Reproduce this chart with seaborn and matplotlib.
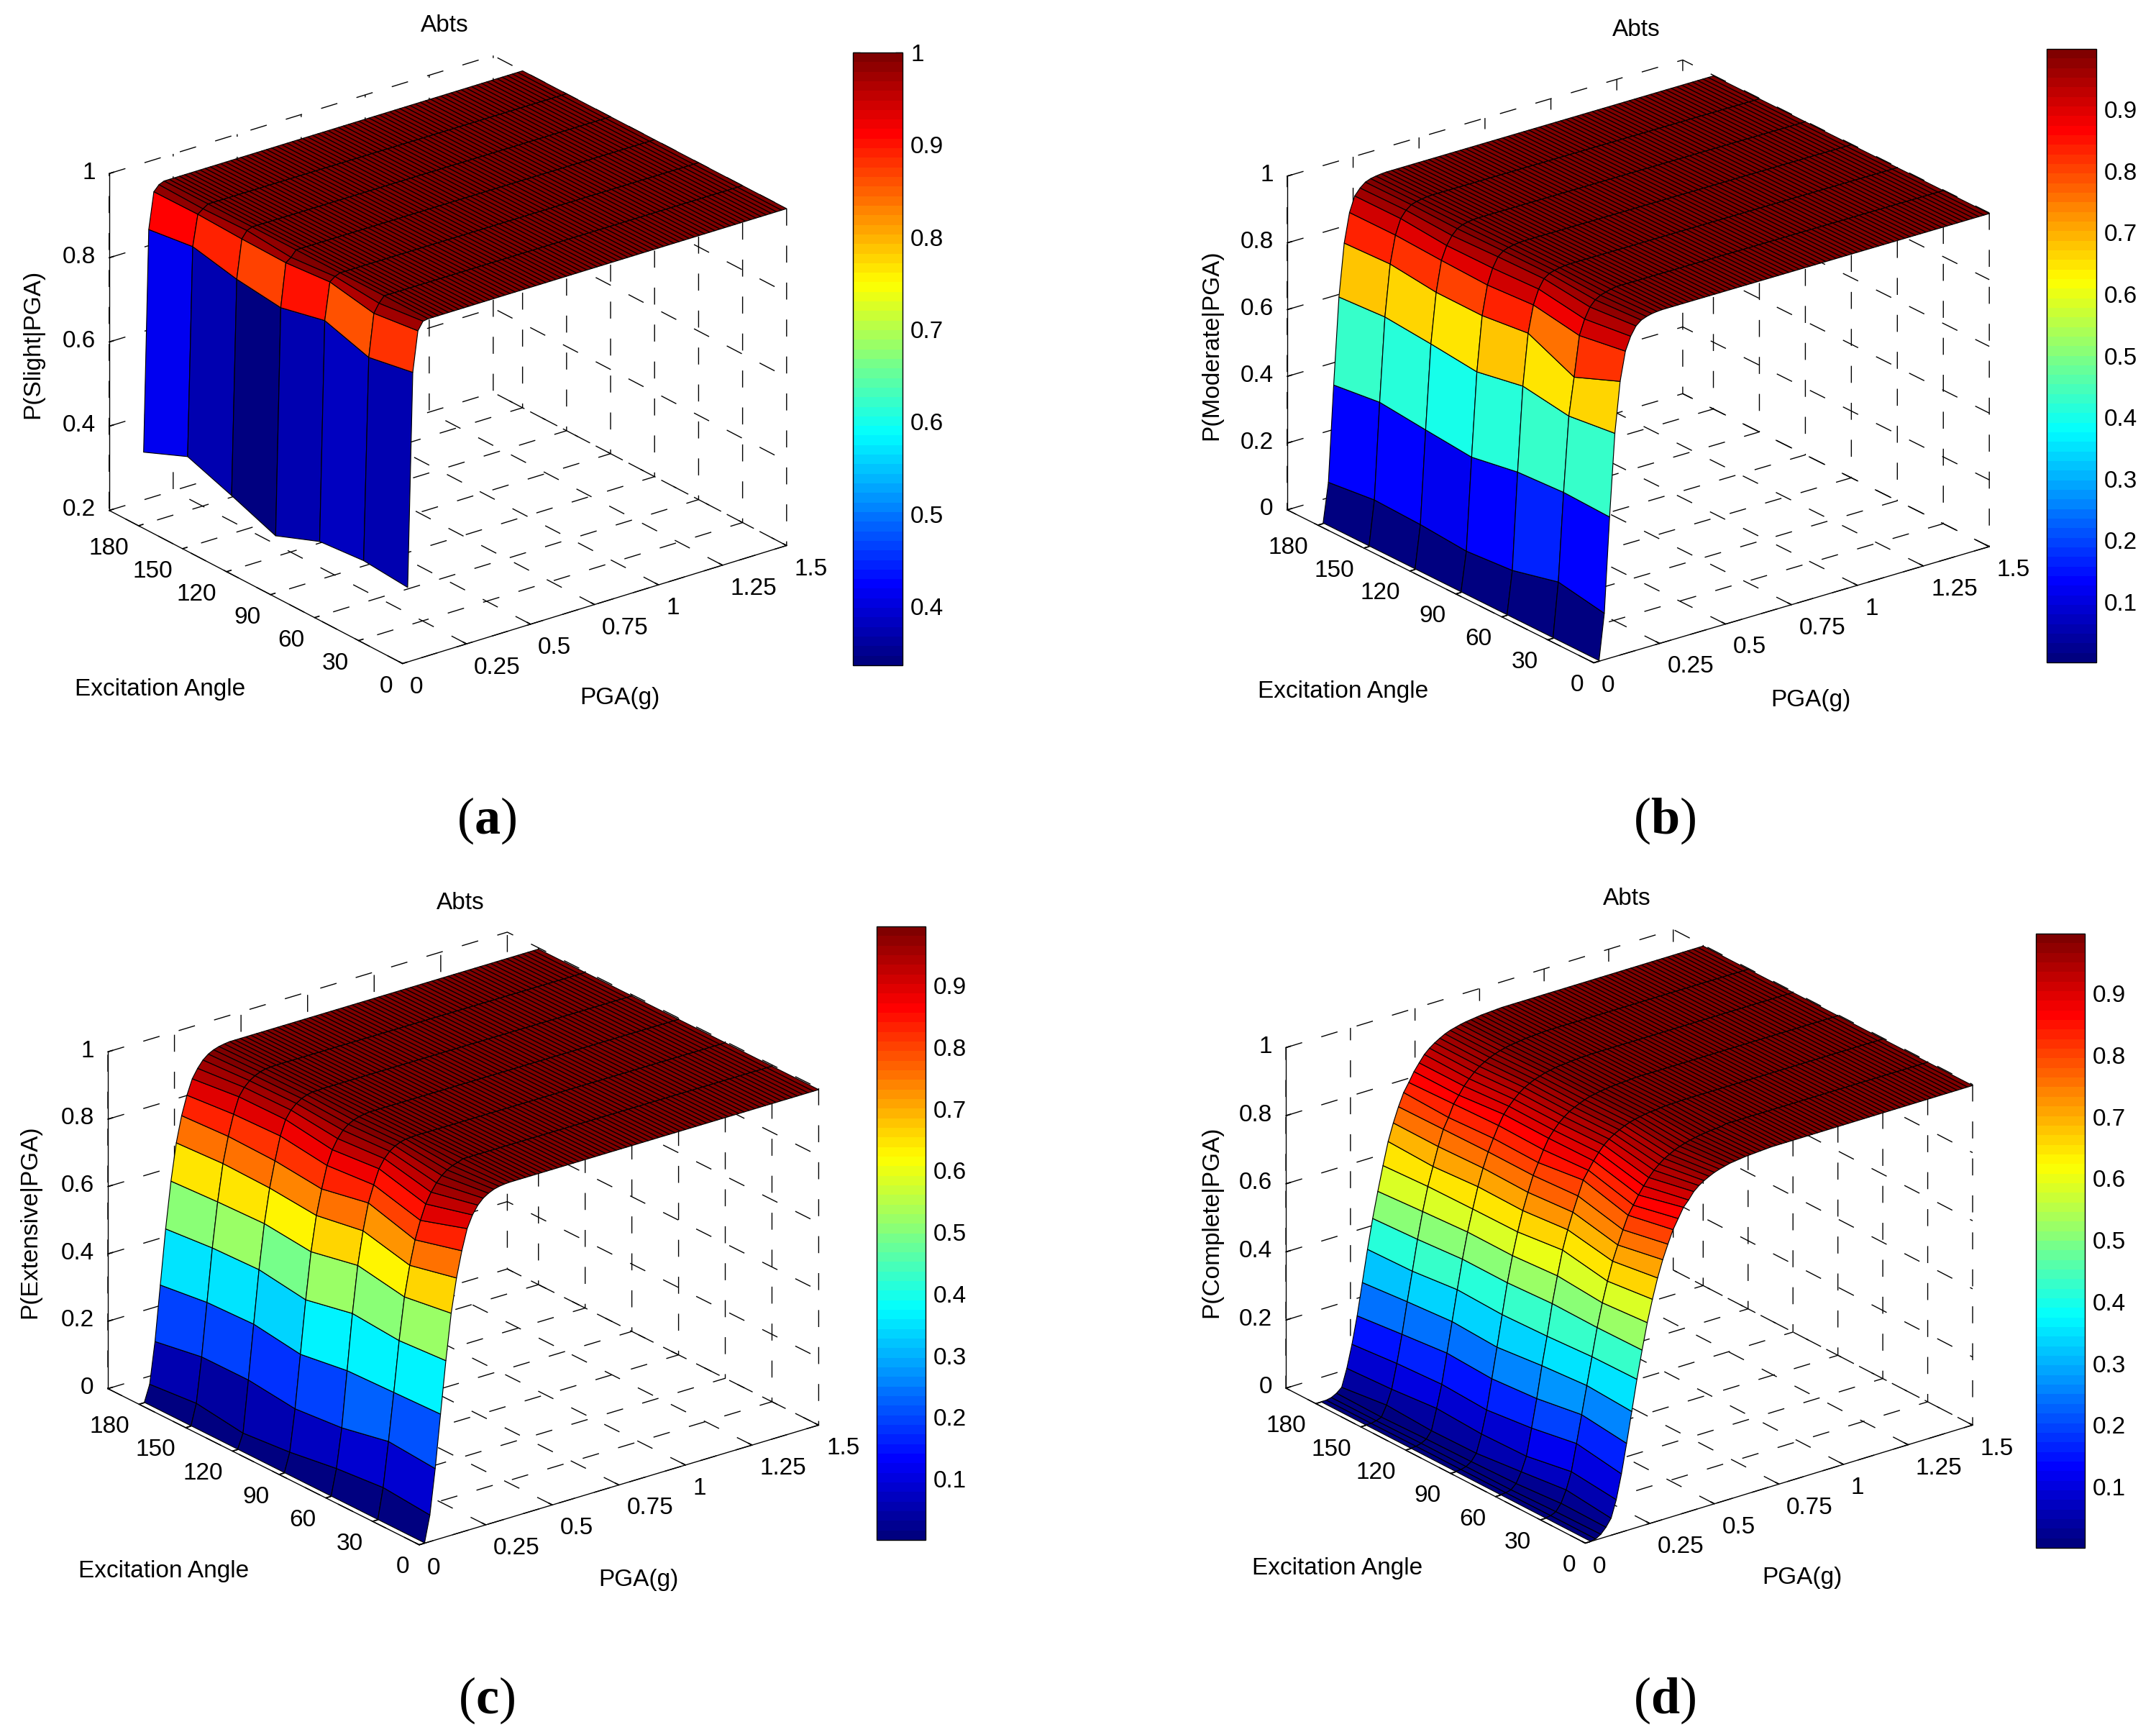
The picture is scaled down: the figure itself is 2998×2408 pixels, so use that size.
import matplotlib
matplotlib.use("Agg")
import matplotlib.pyplot as plt
from matplotlib.cm import ScalarMappable
from matplotlib.colors import ListedColormap, Normalize
from mpl_toolkits.mplot3d import proj3d
import numpy as np
import seaborn as sns

W, H = 2998, 2408

# PGA axis of the mesh (g)
PGA_G = [0.02, 0.04, 0.06, 0.08, 0.10, 0.12, 0.14, 0.16, 0.18, 0.20, 0.22, 0.24, 0.26, 0.28, 0.30,
         0.32, 0.34, 0.36, 0.38, 0.40, 0.42, 0.44, 0.46, 0.48, 0.50, 0.52, 0.54, 0.56, 0.58, 0.60,
         0.62, 0.64, 0.66, 0.68, 0.70, 0.72, 0.74, 0.76, 0.78, 0.80, 0.82, 0.84, 0.86, 0.88, 0.90,
         0.92, 0.94, 0.96, 0.98, 1.00, 1.02, 1.04, 1.06, 1.08, 1.10, 1.12, 1.14, 1.16, 1.18, 1.20,
         1.22, 1.24, 1.26, 1.28, 1.30, 1.32, 1.34, 1.36, 1.38, 1.40, 1.42, 1.44, 1.46, 1.48, 1.50]
ANGLE_DEG = [0, 30, 60, 90, 120, 150, 180]

PGA_TICKS = [0, 0.25, 0.5, 0.75, 1, 1.25, 1.5]
PGA_TICK_LABELS = ["0", "0.25", "0.5", "0.75", "1", "1.25", "1.5"]
Z_TICK_LABELS = {0: "0", 0.2: "0.2", 0.4: "0.4", 0.6: "0.6", 0.8: "0.8", 1: "1"}

# one row per PGA value, one column per angle. flat top repeated for the saturated rows
P_SLIGHT = [
    [0.377, 0.386, 0.377, 0.336, 0.377, 0.415, 0.371],
    [0.884, 0.865, 0.898, 0.874, 0.887, 0.910, 0.896],
    [0.979, 0.966, 0.986, 0.977, 0.979, 0.983, 0.982],
    [0.998, 0.986, 0.995, 0.986, 0.995, 0.992, 0.995],
] + [[1.0] * 7] * 71

P_MODERATE = [
    [0.002, 0.002, 0.002, 0.002, 0.002, 0.002, 0.002],
    [0.139, 0.164, 0.130, 0.119, 0.130, 0.135, 0.119],
    [0.423, 0.428, 0.420, 0.396, 0.409, 0.423, 0.406],
    [0.669, 0.652, 0.673, 0.647, 0.662, 0.674, 0.665],
    [0.820, 0.764, 0.827, 0.811, 0.812, 0.828, 0.822],
    [0.906, 0.884, 0.907, 0.898, 0.903, 0.910, 0.909],
    [0.946, 0.929, 0.950, 0.944, 0.943, 0.955, 0.954],
    [0.972, 0.960, 0.976, 0.973, 0.968, 0.975, 0.973],
    [0.985, 0.977, 0.987, 0.986, 0.984, 0.987, 0.986],
    [0.991, 0.986, 0.992, 0.992, 0.991, 0.992, 0.992],
    [0.995, 0.991, 0.995, 0.995, 0.995, 0.995, 0.995],
    [0.997, 0.995, 0.997, 0.997, 0.997, 0.997, 0.997],
] + [[0.998] * 7] * 63

P_EXTENSIVE = [
    [0.001, 0.001, 0.001, 0.001, 0.001, 0.001, 0.001],
    [0.079, 0.091, 0.078, 0.057, 0.044, 0.063, 0.050],
    [0.212, 0.223, 0.194, 0.181, 0.197, 0.196, 0.172],
    [0.369, 0.364, 0.359, 0.338, 0.358, 0.353, 0.335],
    [0.523, 0.513, 0.524, 0.495, 0.515, 0.510, 0.497],
    [0.659, 0.638, 0.662, 0.633, 0.647, 0.642, 0.634],
    [0.759, 0.727, 0.760, 0.736, 0.748, 0.751, 0.743],
    [0.835, 0.798, 0.838, 0.810, 0.824, 0.827, 0.819],
    [0.896, 0.851, 0.887, 0.875, 0.893, 0.888, 0.875],
    [0.932, 0.895, 0.930, 0.917, 0.937, 0.935, 0.919],
    [0.956, 0.925, 0.955, 0.945, 0.960, 0.958, 0.945],
    [0.972, 0.948, 0.972, 0.965, 0.975, 0.973, 0.965],
    [0.982, 0.965, 0.983, 0.978, 0.985, 0.983, 0.978],
    [0.989, 0.977, 0.990, 0.986, 0.991, 0.990, 0.986],
    [0.993, 0.985, 0.994, 0.991, 0.995, 0.994, 0.991],
    [0.995, 0.990, 0.995, 0.994, 0.995, 0.995, 0.994],
] + [[0.996] * 7] * 59

P_COMPLETE = [
    [0.001, 0.001, 0.001, 0.001, 0.001, 0.001, 0.001],
    [0.003, 0.003, 0.002, 0.002, 0.002, 0.001, 0.001],
    [0.012, 0.010, 0.006, 0.006, 0.006, 0.004, 0.004],
    [0.028, 0.030, 0.020, 0.016, 0.014, 0.010, 0.012],
    [0.050, 0.065, 0.050, 0.036, 0.034, 0.041, 0.025],
    [0.100, 0.114, 0.091, 0.088, 0.095, 0.083, 0.076],
    [0.171, 0.192, 0.169, 0.154, 0.161, 0.154, 0.142],
    [0.256, 0.272, 0.251, 0.241, 0.248, 0.235, 0.221],
    [0.345, 0.353, 0.343, 0.329, 0.336, 0.326, 0.314],
    [0.435, 0.433, 0.425, 0.420, 0.425, 0.411, 0.407],
    [0.516, 0.514, 0.516, 0.509, 0.510, 0.500, 0.493],
    [0.592, 0.582, 0.593, 0.584, 0.585, 0.577, 0.568],
    [0.656, 0.641, 0.664, 0.649, 0.648, 0.646, 0.639],
    [0.714, 0.695, 0.719, 0.707, 0.709, 0.700, 0.705],
    [0.763, 0.738, 0.766, 0.756, 0.759, 0.754, 0.755],
    [0.804, 0.778, 0.809, 0.801, 0.802, 0.800, 0.798],
    [0.842, 0.816, 0.851, 0.834, 0.837, 0.830, 0.835],
    [0.870, 0.841, 0.875, 0.867, 0.870, 0.865, 0.860],
    [0.898, 0.866, 0.898, 0.896, 0.898, 0.886, 0.887],
    [0.915, 0.888, 0.918, 0.915, 0.917, 0.908, 0.908],
    [0.935, 0.908, 0.935, 0.932, 0.933, 0.925, 0.928],
    [0.948, 0.925, 0.948, 0.945, 0.947, 0.940, 0.942],
    [0.958, 0.938, 0.958, 0.956, 0.958, 0.952, 0.953],
    [0.966, 0.950, 0.966, 0.964, 0.966, 0.961, 0.962],
    [0.973, 0.958, 0.973, 0.971, 0.973, 0.969, 0.970],
    [0.978, 0.966, 0.979, 0.977, 0.978, 0.975, 0.976],
    [0.982, 0.972, 0.983, 0.982, 0.983, 0.980, 0.980],
    [0.986, 0.977, 0.986, 0.985, 0.986, 0.984, 0.984],
    [0.988, 0.981, 0.989, 0.988, 0.989, 0.987, 0.987],
    [0.990, 0.984, 0.991, 0.990, 0.991, 0.989, 0.989],
    [0.992, 0.987, 0.992, 0.992, 0.992, 0.991, 0.991],
    [0.993, 0.989, 0.994, 0.993, 0.994, 0.993, 0.993],
    [0.994, 0.991, 0.995, 0.994, 0.995, 0.994, 0.994],
    [0.995, 0.992, 0.996, 0.995, 0.996, 0.995, 0.995],
    [0.996, 0.993, 0.996, 0.996, 0.996, 0.996, 0.996],
] + [[0.997] * 7] * 40

# layout, in pixels of the full picture
PANELS = [
    dict(values=P_SLIGHT, name="Slight", letter="a", zlim=(0.2, 1), zticks=[0.2, 0.4, 0.6, 0.8, 1],
         cbar_ticks=[0.4, 0.5, 0.6, 0.7, 0.8, 0.9, 1], cbar_labels=["0.4", "0.5", "0.6", "0.7", "0.8", "0.9", "1"],
         view=(23.6, 232.5), box=(673, 670, 511), left=(151.8, 709.6), right=(1093.8, 758.5),
         cbar=(1186, 73, 1255, 925), title=(618, 36), tag=(677, 1141),
         angle_label=(223, 958), pga_label=(862, 971), p_label=(46, 478)),
    dict(values=P_MODERATE, name="Moderate", letter="b", zlim=(0, 1), zticks=[0, 0.2, 0.4, 0.6, 0.8, 1],
         cbar_ticks=[0.1, 0.2, 0.3, 0.4, 0.5, 0.6, 0.7, 0.8, 0.9], cbar_labels=None,
         view=(22.5, 232.5), box=(693, 700, 502), left=(1789.9, 708.8), right=(2766.2, 760),
         cbar=(2845.5, 68, 2915, 921), title=(2275, 41), tag=(2315, 1141),
         angle_label=(1867.5, 961), pga_label=(2518, 973), p_label=(1685, 480)),
    dict(values=P_EXTENSIVE, name="Extensive", letter="c", zlim=(0, 1), zticks=[0, 0.2, 0.4, 0.6, 0.8, 1],
         cbar_ticks=[0.1, 0.2, 0.3, 0.4, 0.5, 0.6, 0.7, 0.8, 0.9], cbar_labels=None,
         view=(22.8, 232.3), box=(702, 708, 508), left=(150, 1930.6), right=(1138.4, 1981.4),
         cbar=(1219, 1288, 1287, 2141), title=(640, 1256), tag=(677, 2364),
         angle_label=(228, 2184), pga_label=(888, 2196), p_label=(42, 1699)),
    dict(values=P_COMPLETE, name="Complete", letter="d", zlim=(0, 1), zticks=[0, 0.2, 0.4, 0.6, 0.8, 1],
         cbar_ticks=[0.1, 0.2, 0.3, 0.4, 0.5, 0.6, 0.7, 0.8, 0.9], cbar_labels=None,
         view=(23.4, 232.5), box=(679, 684, 516), left=(1788.1, 1929.8), right=(2743, 1981.4),
         cbar=(2831, 1298, 2899, 2152), title=(2262, 1250), tag=(2315, 2364),
         angle_label=(1860, 2181), pga_label=(2506, 2193.5), p_label=(1685, 1699)),
]

sns.set_theme(style="white", font="Liberation Sans", rc={
    "text.color": "black", "axes.labelcolor": "black", "axes.edgecolor": "black",
    "xtick.color": "black", "ytick.color": "black", "grid.color": "black",
    "grid.linewidth": 1.0, "grid.linestyle": (0, (17, 20)), "axes.linewidth": 1.0,
    "mathtext.fontset": "custom", "mathtext.rm": "Liberation Serif",
    "mathtext.bf": "Liberation Serif:bold",
})

# matlab jet, 64 steps
jet = ListedColormap(sns.blend_palette(
    [(0, 0, 0.5), (0, 0, 1), (0, 0.5, 1), (0, 1, 1), (0.5, 1, 0.5), (1, 1, 0), (1, 0.5, 0), (1, 0, 0), (0.5, 0, 0)],
    n_colors=64))

FS = 24
fig = plt.figure(figsize=(W / 100, H / 100), dpi=100, facecolor="white")


def project(ax, x, y, z):
    px, py, _ = proj3d.proj_transform(x, y, z, ax.get_proj())
    return ax.transData.transform((px, py))


def fit_box(ax, panel, zmin):
    # square axes, scaled and moved until the floor corners land on the target pixels
    (lx, ly), (rx, ry) = panel["left"], panel["right"]
    size, cx, cy = 1200.0, (lx + rx) / 2, H - (ly + ry) / 2
    for _ in range(3):
        ax.set_position([(cx - size / 2) / W, (cy - size / 2) / H, size / W, size / H])
        ax.apply_aspect()
        pl = project(ax, 0, 200, zmin)
        pr = project(ax, 1.5, 0, zmin)
        size *= (rx - lx) / (pr[0] - pl[0])
        cx += (lx + rx) / 2 - (pl[0] + pr[0]) / 2
        cy += (H - (ly + ry) / 2) - (pl[1] + pr[1]) / 2
    ax.set_position([(cx - size / 2) / W, (cy - size / 2) / H, size / W, size / H])
    ax.apply_aspect()


def label_at(xy, text, **kw):
    fig.text(xy[0] / W, 1 - xy[1] / H, text, ha="center", va="center", **kw)


X, Y = np.meshgrid(PGA_G, ANGLE_DEG, indexing="ij")
for panel in PANELS:
    Z = np.array(panel["values"])
    norm = Normalize(Z.min(), Z.max())

    ax = fig.add_axes([0.1, 0.1, 0.4, 0.4], projection="3d", proj_type="ortho")
    ax.set_facecolor("none")
    ax.plot_surface(X, Y, Z, facecolors=jet(norm(Z)), rstride=1, cstride=1,
                    edgecolor="black", linewidth=0.85, shade=False, antialiased=True)
    ax.view_init(elev=panel["view"][0], azim=panel["view"][1])
    ax.set_box_aspect(panel["box"])
    ax.set_xlim(0, 1.5, view_margin=0)
    ax.set_ylim(0, 200, view_margin=0)
    ax.set_zlim(*panel["zlim"], view_margin=0)

    ax.set_xticks(PGA_TICKS, PGA_TICK_LABELS, ha="left")
    ax.set_yticks(ANGLE_DEG, [str(a) for a in ANGLE_DEG], ha="right")
    ax.set_zticks(panel["zticks"], [Z_TICK_LABELS[t] for t in panel["zticks"]], ha="right", va="center")
    ax.tick_params(axis="x", labelsize=FS, pad=2)
    ax.tick_params(axis="y", labelsize=FS, pad=2)
    ax.tick_params(axis="z", labelsize=FS, pad=0)
    for axis in (ax.xaxis, ax.yaxis, ax.zaxis):
        axis.set_pane_color((1, 1, 1, 0))
        axis.pane.set_edgecolor("none")
        axis._axinfo["tick"]["inward_factor"] = 0.0
        axis._axinfo["tick"]["outward_factor"] = 0.15

    fit_box(ax, panel, panel["zlim"][0])

    # axis titles sit where the picture has them, mplot3d would keep them on the edge normal
    label_at(panel["pga_label"], "PGA(g)", fontsize=FS)
    label_at(panel["angle_label"], "Excitation Angle", fontsize=FS)
    label_at(panel["p_label"], f"P({panel['name']}|PGA)", fontsize=FS, rotation=90)

    tx, ty = ax.transAxes.inverted().transform((panel["title"][0], H - panel["title"][1]))
    ax.set_title("Abts", fontsize=FS, x=tx, y=ty, va="center", pad=0)
    ax.title.set_y(ty)

    x0, y0, x1, y1 = panel["cbar"]
    cax = fig.add_axes([x0 / W, 1 - y1 / H, (x1 - x0) / W, (y1 - y0) / H])
    cb = fig.colorbar(ScalarMappable(norm=norm, cmap=jet), cax=cax, drawedges=False)
    cb.set_ticks(panel["cbar_ticks"], labels=panel["cbar_labels"] or [f"{t:g}" for t in panel["cbar_ticks"]])
    cax.yaxis.set_ticks_position("both")
    cax.yaxis.set_label_position("right")
    cax.tick_params(axis="y", direction="in", length=7, width=1, labelsize=FS, pad=8, labelleft=False, labelright=True)
    cb.outline.set_edgecolor("black")
    cb.outline.set_linewidth(1.0)

    label_at(panel["tag"], f"($\\mathbf{{{panel['letter']}}}$)", fontsize=52, family="Liberation Serif")

fig.savefig("out.png", dpi=100, facecolor="white")
